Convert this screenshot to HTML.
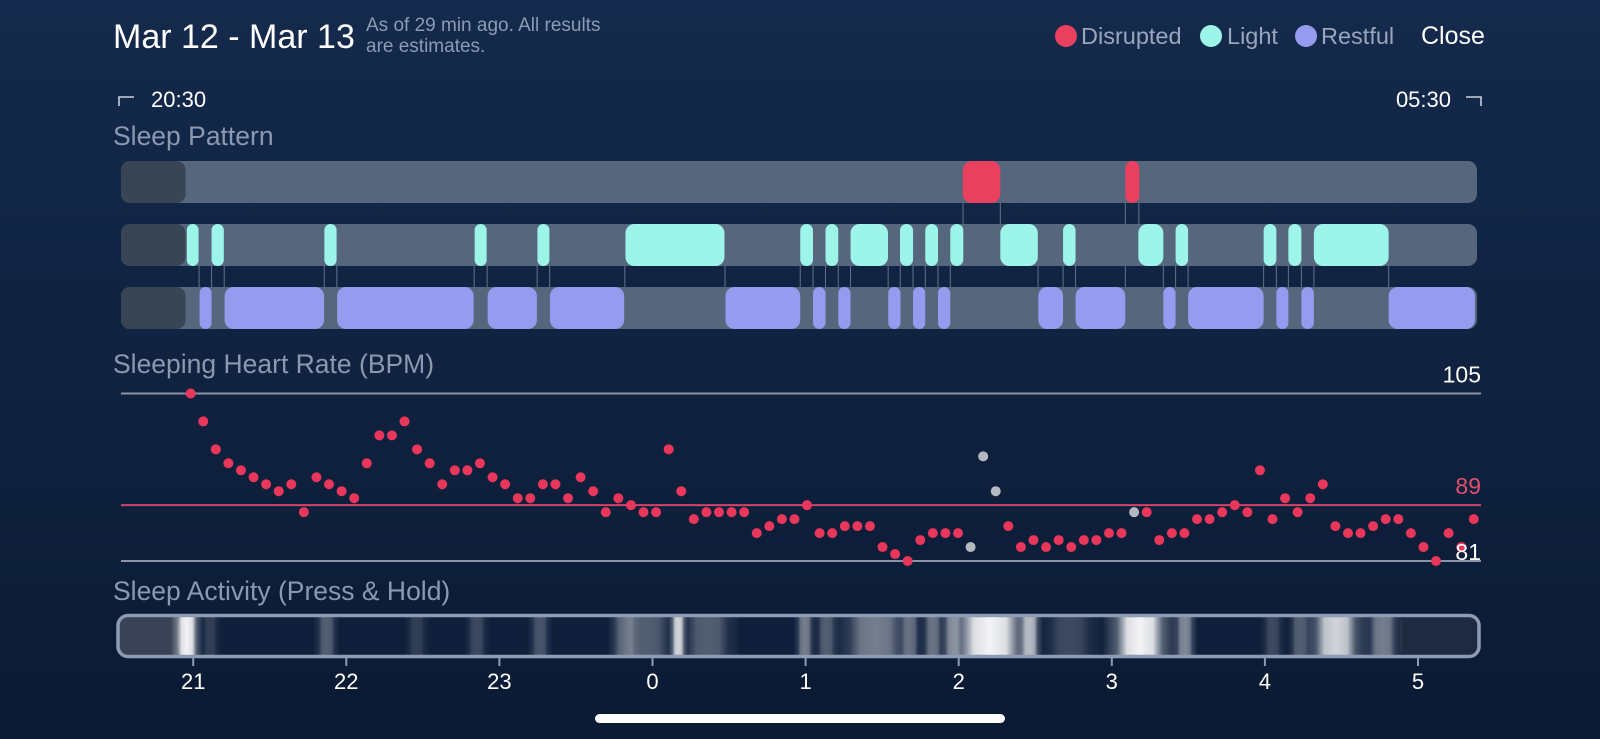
<!DOCTYPE html>
<html><head><meta charset="utf-8">
<style>
html,body{margin:0;padding:0;width:1600px;height:739px;overflow:hidden;background:#0f2141;}
svg{display:block;font-family:"Liberation Sans",sans-serif;}
</style></head>
<body>
<svg id="chart" width="1600" height="739" viewBox="0 0 1600 739">
<defs>
<linearGradient id="bg" x1="0" y1="0" x2="0" y2="1"><stop offset="0" stop-color="#142a4c"/><stop offset="1" stop-color="#0b1a33"/></linearGradient>
</defs>
<rect x="0" y="0" width="1600" height="739" fill="url(#bg)"/>
<text x="113" y="48" font-size="34" fill="#ffffff">Mar 12 - Mar 13</text>
<text x="366" y="31" font-size="19" fill="#8c9bb5">As of 29 min ago. All results</text>
<text x="366" y="52" font-size="19" fill="#8c9bb5">are estimates.</text>
<g>
<circle cx="1066" cy="36" r="11" fill="#e8405e"/>
<text x="1081" y="44" font-size="23.5" fill="#9aa6bc">Disrupted</text>
<circle cx="1211" cy="36" r="11" fill="#9cf5e8"/>
<text x="1227" y="44" font-size="23.5" fill="#9aa6bc">Light</text>
<circle cx="1306" cy="36" r="11" fill="#959cf0"/>
<text x="1321" y="44" font-size="23.5" fill="#9aa6bc">Restful</text>
</g>
<text x="1421" y="44" font-size="25" fill="#ffffff">Close</text>
<path d="M119 106 V97 H134" stroke="#c9d0dc" stroke-width="1.6" fill="none"/>
<text x="151" y="107" font-size="22" fill="#ffffff">20:30</text>
<text x="1451" y="107" font-size="22" fill="#ffffff" text-anchor="end">05:30</text>
<path d="M1466 97 H1481 V106" stroke="#c9d0dc" stroke-width="1.6" fill="none"/>
<text x="113" y="145" font-size="26.5" fill="#8b98b0">Sleep Pattern</text>
<text x="113" y="373" font-size="26.5" fill="#8b98b0">Sleeping Heart Rate (BPM)</text>
<text x="113" y="600" font-size="26.5" fill="#8b98b0">Sleep Activity (Press &amp; Hold)</text>
<g id="pattern"></g>
<g id="hr"></g>
<g id="act"></g>
<g id="xaxis"></g>
<rect x="595" y="714" width="410" height="9" rx="4.5" fill="#ffffff"/>
</svg>
<script>
// ---- data ----
const hourTicks = [21, 22, 23, 0, 1, 2, 3, 4, 5];
const disruptedSegs = [[301.6, 316.3], [365.3, 370.8]];
const lightSegs = [[-2.5,2.1],[7.2,12.0],[51.4,56.2],[110.3,115.0],[134.9,139.6],[169.4,208.2],[237.9,242.9],[247.8,252.8],[257.6,272.3],[277.0,282.1],[286.9,291.9],[296.7,301.8],[316.3,331.0],[340.9,345.8],[370.4,380.2],[385.0,389.9],[419.5,424.5],[429.2,434.3],[439.2,468.5]];
const restfulSegs = [[2.5,7.2],[12.3,51.3],[56.4,109.9],[115.4,134.7],[139.8,168.9],[208.6,237.9],[242.9,247.8],[252.8,257.6],[272.4,277.2],[282.1,286.9],[291.9,296.7],[331.2,340.9],[345.8,365.3],[380.2,385.0],[389.9,419.5],[424.5,429.2],[434.3,439.2],[468.5,502.3]];
const awakeBefore = [-27.5, -3.0];
const hrValues = [105,101,97,95,94,93,92,91,92,88,93,92,91,90,95,99,99,101,97,95,92,94,94,95,93,92,90,90,92,92,90,93,91,88,90,89,
 88,88,97,91,87,88,88,88,88,85,86,87,87,89,85,85,86,86,86,83,82,81,84,85,85,85,83,96,91,86,83,84,83,
 84,83,84,84,85,85,88,88,84,85,85,87,87,88,89,88,94,87,90,88,90,92,86,85,85,86,87,87,85,83,81,85,83,87];
const hrMuted = [62, 63, 64, 75];
const hrStartMin = -1;
const hrStepMin = 4.93;
const hrRefLines = [105, 89, 81];
const actBands = [[-2.5,6.7,1.0],[6.6,4.7,0.15],[52.3,5.5,0.3],[87.6,5.5,0.15],[111.1,5.5,0.2],[135.9,5.5,0.25],[169.2,7,0.3],[177,15.7,0.3],[190.1,4,0.85],[201.7,13.7,0.3],[239.7,4.7,0.45],[248.2,5.5,0.3],[267.2,17.6,0.45],[280.9,5.5,0.35],[289.9,5.5,0.4],[297.7,5.5,0.45],[312.2,19.6,1.0],[327.9,5.5,0.7],[343.6,13.7,0.2],[371,15.7,1.0],[388.6,5.5,0.5],[423.1,5.5,0.2],[433.7,5.5,0.3],[447.8,13.7,0.85],[466.2,8.6,0.45]];

// ---- scales ----
const NS = 'http://www.w3.org/2000/svg';
const X0 = 193.2, PXH = 153.1;
function x(min){ return X0 + min * PXH / 60; }
function hourX(h){ const rel = (h >= 12 ? h - 21 : h + 3); return x(rel * 60); }
const Y105 = 393.5, PXB = 6.98;
function y(v){ return Y105 + (105 - v) * PXB; }
function mk(tag, attrs, parent){ const e = document.createElementNS(NS, tag); for (const k in attrs) e.setAttribute(k, attrs[k]); parent.appendChild(e); return e; }

// ---- sleep pattern ----
const pat = document.getElementById('pattern');
const rows = [{y:161,c:'#e8405e',segs:disruptedSegs,n:'disrupted'},{y:224,c:'#9cf5e8',segs:lightSegs,n:'light'},{y:287,c:'#959cf0',segs:restfulSegs,n:'restful'}];
const RH = 42, BX0 = 121, BX1 = 1477;
const all = [];
rows.forEach((r, ri) => r.segs.forEach(s => all.push({s:s[0], e:s[1], ri})));
all.sort((a, b) => a.s - b.s);
for (let i = 1; i < all.length; i++) {
  const a = all[i-1], b = all[i];
  if (a.ri === b.ri) continue;
  const top = Math.min(a.ri, b.ri), bot = Math.max(a.ri, b.ri);
  const bx = (x(a.e) + x(b.s)) / 2;
  const ln = mk('line', {x1:bx, x2:bx, y1:rows[top].y + RH/2, y2:rows[bot].y + RH/2, stroke:'rgba(200,210,225,0.45)', 'stroke-width':1}, pat);
  
  
}
rows.forEach((r) => {
  const tr = mk('rect', {x:BX0, y:r.y, width:BX1-BX0, height:RH, rx:9, fill:'#56667d'}, pat);
  
  
  const aw = mk('rect', {x:BX0, y:r.y, width:x(awakeBefore[1])-BX0, height:RH, rx:9, fill:'#394455'}, pat);
  
  
  r.segs.forEach(s => {
    const x1 = x(s[0]), w = Math.max(2, x(s[1]) - x1);
    const el = mk('rect', {x:x1, y:r.y, width:w, height:RH, rx:Math.min(9, w/2), fill:r.c}, pat);
    
    
  });
});

// ---- heart rate ----
const hr = document.getElementById('hr');
const refColors = ['#8a94a8', '#d0436a', '#8a94a8'];
const refText = ['#ffffff', '#e0506f', '#ffffff'];
hrRefLines.forEach((v, i) => {
  const l = mk('line', {x1:121, x2:1481, y1:y(v), y2:y(v), stroke:refColors[i], 'stroke-width':2}, hr);
  
  
});
hrValues.forEach((v, i) => {
  const muted = hrMuted.indexOf(i) >= 0;
  const c = mk('circle', {cx:x(hrStartMin + i*hrStepMin), cy:y(v), r:5, fill: muted ? '#b4b8c0' : '#e8375a'}, hr);
  
  
});
hrRefLines.forEach((v, i) => {
  const t = mk('text', {x:1481, y:y(v) - 11, 'font-size':23, fill:refText[i], 'text-anchor':'end'}, hr);
  if (i === 2) t.setAttribute('y', y(v) - 1);
  t.textContent = v;
  
  
});

// ---- activity bar ----
const act = document.getElementById('act');
const defs = document.querySelector('defs');
const g = mk('linearGradient', {id:'band', x1:0, x2:1, y1:0, y2:0}, defs);
[[0,0],[0.2,0.3],[0.33,0.9],[0.5,1],[0.67,0.9],[0.8,0.3],[1,0]].forEach(s => mk('stop', {offset:s[0], 'stop-color':'#ffffff', 'stop-opacity':s[1]}, g));
const AY = 615.5, AH = 41;
const bgR = mk('rect', {x:118, y:AY, width:1361, height:AH, rx:10, fill:'#0f1f3b'}, act);


const l1 = mk('rect', {x:118, y:AY, width:x(awakeBefore[1]) - 118 - 6, height:AH, rx:8, fill:'#394355'}, act);


const r1 = mk('rect', {x:1400, y:AY, width:79, height:AH, rx:8, fill:'#1e2a40'}, act);


actBands.forEach(b => {
  const w = b[1] * PXH / 60 * 1.9;
  const band = mk('rect', {x:x(b[0]) - w/2, y:AY, width:w, height:AH, fill:'url(#band)', opacity:b[2] * 0.95}, act);
  
  
});
const brd = mk('rect', {x:118, y:AY, width:1361, height:AH, rx:10, fill:'none', stroke:'#8e9bb3', 'stroke-width':3.5}, act);



// ---- x axis ----
const xa = document.getElementById('xaxis');
hourTicks.forEach(h => {
  const tx = hourX(h);
  const tk = mk('line', {x1:tx, x2:tx, y1:658, y2:666, stroke:'#8e9bb3', 'stroke-width':2}, xa);
  
  
  const t = mk('text', {x:tx, y:689, 'font-size':22, fill:'#ffffff', 'text-anchor':'middle'}, xa);
  t.textContent = h;
  
  
});
</script>
</body></html>
